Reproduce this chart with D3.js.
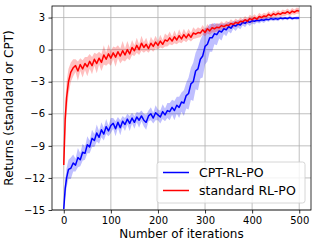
<!DOCTYPE html>
<html>
<head>
<meta charset="utf-8">
<script src="https://cdn.jsdelivr.net/npm/d3@7/dist/d3.min.js"></script>
<style>
html,body{margin:0;padding:0;background:#fff;}
svg{display:block;font-family:"DejaVu Sans",sans-serif;}
</style>
</head>
<body>
<svg id="chart" width="317" height="250"></svg>
<script>
// ---- data ----
const iterations = [0,3,6,10,15,20,25,30,35,40,45,50,55,60,65,70,75,80,85,90,95,100,
  105,110,115,120,125,130,135,140,145,150,155,160,165,170,175,180,185,190,195,200,
  205,210,215,220,225,230,235,240,245,250,255,260,265,270,275,280,285,290,295,300,
  305,310,315,320,325,330,335,340,345,350,355,360,365,370,375,380,385,390,395,400,
  405,410,415,420,425,430,435,440,445,450,455,460,465,470,475,480,485,490,495,500];

const standardMean = [-10.8,-6.5,-4.5,-3.0,-2.1,-1.7,-1.5,-2.0,-1.4,-1.8,-1.3,-1.6,-1.1,-1.5,-0.9,-1.3,-0.8,-1.2,-0.5,-0.9,-0.4,-0.8,
  -0.3,-0.7,-0.2,-0.6,-0.1,-0.5,0.0,-0.4,0.2,-0.1,0.4,0.0,0.6,0.2,0.5,0.1,0.6,0.3,0.7,0.4,
  0.8,0.5,0.9,0.8,1.1,0.8,1.2,0.9,1.3,1.0,1.4,1.1,1.45,1.15,1.55,1.45,1.6,1.55,1.85,1.6,
  1.95,1.75,2.05,1.95,2.1,2.05,2.25,2.15,2.3,2.25,2.45,2.35,2.55,2.45,2.65,2.6,2.8,2.65,2.9,2.8,
  3.0,2.85,3.1,3.0,3.15,3.1,3.3,3.15,3.35,3.25,3.4,3.3,3.45,3.4,3.55,3.4,3.6,3.5,3.65,3.6];

const standardStd = [0.5,1.6,1.5,1.2,0.9,0.8,0.6,0.9,0.6,0.8,0.6,0.9,0.7,0.8,0.6,0.9,0.6,0.8,0.9,0.6,0.9,0.7,
  0.6,0.9,0.6,0.7,0.9,0.6,0.8,0.6,0.7,0.5,0.7,0.5,0.7,0.5,0.6,0.4,0.6,0.5,0.6,0.4,
  0.6,0.4,0.6,0.5,0.6,0.4,0.6,0.4,0.6,0.4,0.55,0.4,0.5,0.4,0.55,0.4,0.5,0.4,0.45,0.35,
  0.45,0.35,0.45,0.35,0.4,0.35,0.4,0.3,0.4,0.3,0.4,0.3,0.35,0.3,0.35,0.25,0.35,0.25,0.35,0.3,
  0.3,0.25,0.35,0.25,0.3,0.25,0.3,0.25,0.3,0.25,0.3,0.25,0.3,0.25,0.3,0.25,0.3,0.25,0.3,0.25];

const cptMean = [-14.9,-13.0,-12.0,-11.2,-11.1,-10.6,-10.8,-10.1,-10.3,-9.6,-9.7,-8.9,-9.1,-8.3,-8.5,-7.8,-8.2,-7.5,-7.9,-7.2,-7.6,-7.1,
  -6.9,-7.4,-6.8,-7.3,-6.7,-7.0,-6.5,-6.9,-6.4,-6.8,-6.3,-6.6,-6.2,-6.6,-6.8,-6.2,-6.0,-6.4,-5.9,-6.1,
  -6.3,-5.8,-6.1,-5.7,-5.8,-5.4,-5.7,-5.2,-5.4,-4.9,-5.0,-4.3,-4.1,-3.2,-3.0,-2.0,-1.8,-0.9,-0.6,0.3,
  0.5,1.1,1.1,1.5,1.4,1.75,1.65,1.95,1.85,2.15,2.0,2.3,2.2,2.4,2.3,2.55,2.45,2.65,2.55,2.7,
  2.65,2.75,2.7,2.8,2.75,2.85,2.8,2.9,2.85,2.9,2.85,2.95,2.9,2.95,2.9,3.0,2.9,2.95,2.95,2.95];

const cptStd = [0.1,0.8,0.9,0.9,1.0,0.8,0.6,0.9,0.6,0.8,0.6,0.8,0.6,0.8,0.6,0.8,0.6,0.7,0.6,0.7,0.5,0.7,
  0.5,0.7,0.5,0.7,0.5,0.6,0.5,0.7,0.5,0.6,0.5,0.7,0.5,0.6,0.7,0.5,0.6,0.5,0.7,0.5,
  0.6,0.7,0.6,0.7,0.8,0.7,0.9,0.8,1.0,0.9,1.2,1.2,1.5,1.5,1.8,1.7,2.0,1.8,2.0,1.7,
  1.6,1.3,1.3,1.0,1.0,0.7,0.8,0.5,0.6,0.45,0.5,0.35,0.45,0.35,0.4,0.3,0.35,0.25,0.35,0.25,
  0.3,0.2,0.25,0.2,0.25,0.15,0.2,0.15,0.2,0.15,0.2,0.12,0.18,0.12,0.15,0.12,0.15,0.1,0.15,0.12];

const xTicks = [0,100,200,300,400,500];
const yTicks = [-15,-12,-9,-6,-3,0,3];
const seriesNames = ["CPT-RL-PO","standard RL-PO"];
const seriesColors = ["#0000ff","#ff0000"];

// ---- layout ----
const svg = d3.select("#chart");
const L = 52, R = 311, T = 6, B = 210;
const x = d3.scaleLinear().domain([-25, 525]).range([L, R]);
const y = d3.scaleLinear().domain([-15, 4.08]).range([B, T]);

svg.append("defs").append("clipPath").attr("id","clip")
  .append("rect").attr("x",L).attr("y",T).attr("width",R-L).attr("height",B-T);

// grid
const grid = svg.append("g");
grid.selectAll(".gx").data(xTicks).join("line")
  .attr("x1",d=>x(d)).attr("x2",d=>x(d)).attr("y1",T).attr("y2",B)
  .attr("stroke","#b0b0b0").attr("stroke-width",0.8);
grid.selectAll(".gy").data(yTicks).join("line")
  .attr("x1",L).attr("x2",R).attr("y1",d=>y(d)).attr("y2",d=>y(d))
  .attr("stroke","#b0b0b0").attr("stroke-width",0.8);

const series = [
  {name: seriesNames[0], color: seriesColors[0], mean: cptMean, sd: cptStd},
  {name: seriesNames[1], color: seriesColors[1], mean: standardMean, sd: standardStd}
];

const plot = svg.append("g").attr("clip-path","url(#clip)");
series.forEach(s => {
  const pts = iterations.map((it,i)=>({it, m:s.mean[i], sd:s.sd[i]}));
  const area = d3.area().x(d=>x(d.it)).y0(d=>y(d.m-d.sd)).y1(d=>y(d.m+d.sd));
  plot.append("path").datum(pts).attr("d",area)
    .attr("fill",s.color).attr("fill-opacity",0.25);
});
series.forEach(s => {
  const pts = iterations.map((it,i)=>({it, m:s.mean[i]}));
  const line = d3.line().x(d=>x(d.it)).y(d=>y(d.m));
  plot.append("path").datum(pts).attr("d",line)
    .attr("fill","none").attr("stroke",s.color).attr("stroke-width",1.5)
    .attr("stroke-linejoin","round");
});

// axes
const fmt = d => d < 0 ? "\u2212" + Math.abs(d) : String(d);
const xAxis = svg.append("g").attr("transform",`translate(0,${B})`)
  .call(d3.axisBottom(x).tickValues(xTicks).tickSize(3.5).tickPadding(3.5).tickFormat(fmt));
const yAxis = svg.append("g").attr("transform",`translate(${L},0)`)
  .call(d3.axisLeft(y).tickValues(yTicks).tickSize(3.5).tickPadding(3.5).tickFormat(fmt));
[xAxis,yAxis].forEach(a=>{
  a.select(".domain").remove();
  a.selectAll("text").attr("font-size",10).attr("font-family","DejaVu Sans").attr("fill","#000");
  a.selectAll("line").attr("stroke","#000").attr("stroke-width",0.8);
});

// frame
svg.append("rect").attr("x",L).attr("y",T).attr("width",R-L).attr("height",B-T)
  .attr("fill","none").attr("stroke","#000").attr("stroke-width",0.8);

// labels
svg.append("text").attr("x",(L+R)/2).attr("y",238).attr("text-anchor","middle")
  .attr("font-size",12).text("Number of iterations");
svg.append("text").attr("transform",`translate(13,${(T+B)/2}) rotate(-90)`)
  .attr("text-anchor","middle").attr("font-size",12).text("Returns (standard or CPT)");

// legend
const lg = svg.append("g");
lg.append("rect").attr("x",157).attr("y",162).attr("width",148).attr("height",41)
  .attr("rx",2.5).attr("fill","#fff").attr("fill-opacity",0.8)
  .attr("stroke","#cccccc").attr("stroke-width",0.8);
series.forEach((s,i)=>{
  const yy = 172.5 + i*18;
  lg.append("line").attr("x1",163).attr("x2",189).attr("y1",yy).attr("y2",yy)
    .attr("stroke",s.color).attr("stroke-width",1.5);
  lg.append("text").attr("x",199).attr("y",yy+4.4).attr("font-size",12.5).text(s.name);
});
</script>
</body>
</html>
